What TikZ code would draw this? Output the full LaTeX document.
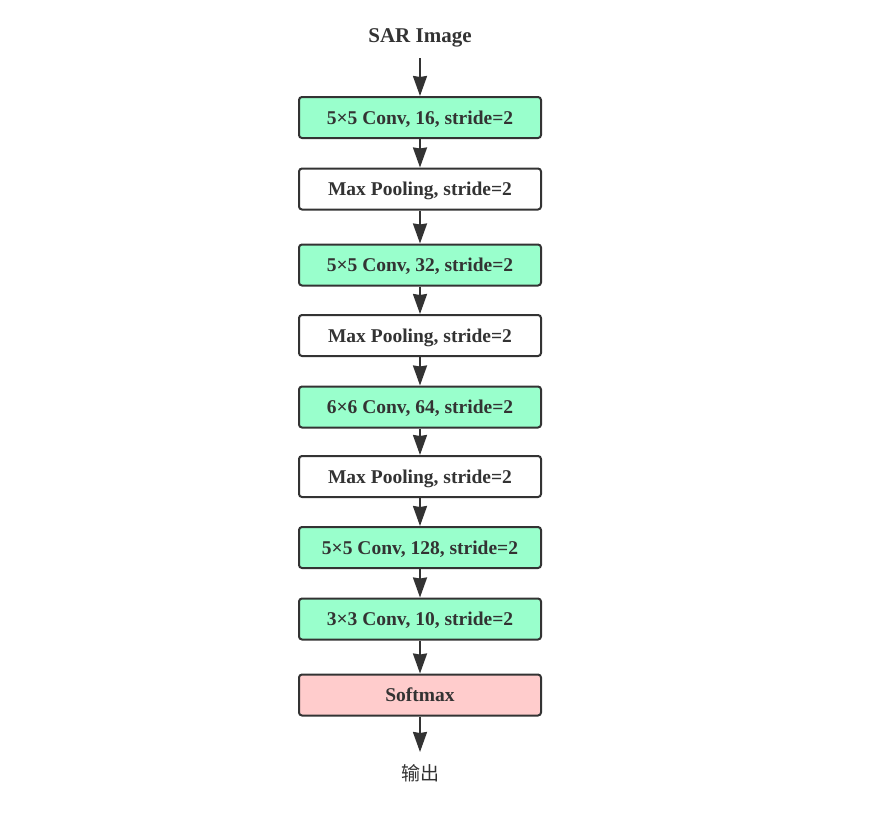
\documentclass[tikz,border=0pt]{standalone}
\usepackage{fontspec}
\setmainfont{Liberation Serif}
\newfontfamily\cjk{Noto Sans CJK SC}
\usetikzlibrary{arrows.meta}
\definecolor{txt}{HTML}{333333}
\definecolor{convfill}{HTML}{99FFCC}
\definecolor{softfill}{HTML}{FFCCCC}
\begin{document}
\begin{tikzpicture}[x=1pt,y=-1pt,
  layer/.style={draw=txt,line width=2pt,rounded corners=3pt,minimum width=242pt,minimum height=41pt,inner sep=0pt,text depth=0pt,font=\fontsize{19.5}{22}\selectfont\bfseries,text=txt},
  conv/.style={layer,fill=convfill},
  pool/.style={layer,fill=white},
  soft/.style={layer,fill=softfill},
  flow/.style={draw=txt,line width=2pt,-{Stealth[length=20pt,width=14pt,inset=1pt]}},
  label/.style={text=txt,inner sep=0pt}]
\useasboundingbox (0,0) rectangle (892,814);
\node[label,font=\fontsize{21}{24}\selectfont\bfseries] (in) at (420,38) {SAR Image};
\coordinate (inend) at (420,58);
\node[conv] (c1) at (420,117.5) {5×5 Conv, 16, stride=2};
\node[pool] (p1) at (420,189) {Max Pooling, stride=2};
\node[conv] (c2) at (420,265) {5×5 Conv, 32, stride=2};
\node[pool] (p2) at (420,335.5) {Max Pooling, stride=2};
\node[conv] (c3) at (420,407) {6×6 Conv, 64, stride=2};
\node[pool] (p3) at (420,476.5) {Max Pooling, stride=2};
\node[conv] (c4) at (420,547.5) {5×5 Conv, 128, stride=2};
\node[conv] (c5) at (420,619) {3×3 Conv, 10, stride=2};
\node[soft] (sm) at (420,695) {Softmax};
\node[label,font=\fontsize{19}{21}\selectfont\cjk] (out) at (420,773) {输出};
\coordinate (outstart) at (420,752);
\draw[flow] (inend) -- (c1.north);
\draw[flow] (c1) -- (p1);
\draw[flow] (p1) -- (c2);
\draw[flow] (c2) -- (p2);
\draw[flow] (p2) -- (c3);
\draw[flow] (c3) -- (p3);
\draw[flow] (p3) -- (c4);
\draw[flow] (c4) -- (c5);
\draw[flow] (c5) -- (sm);
\draw[flow] (sm.south) -- (outstart);
\end{tikzpicture}
\end{document}
